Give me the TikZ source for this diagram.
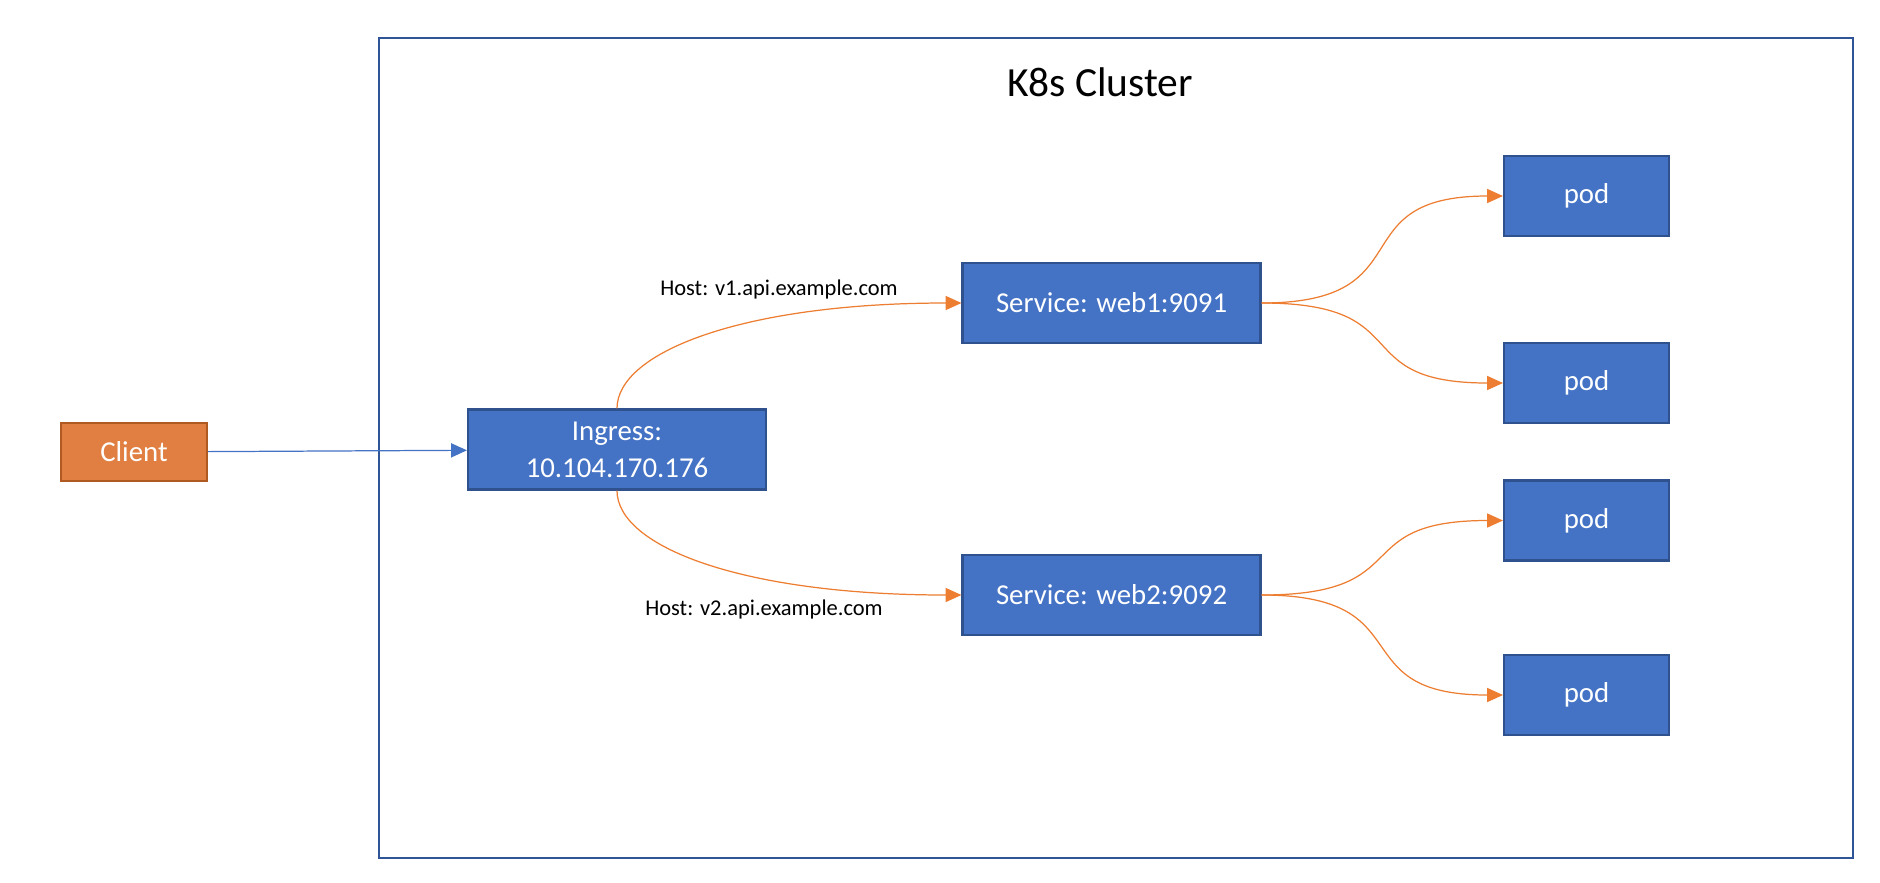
\documentclass[tikz,border=0pt]{standalone}
\usepackage{fontspec}
\setmainfont{Carlito}
\usepackage{tikz}
\usetikzlibrary{arrows.meta}

\definecolor{boxblue}{HTML}{4472C4}
\definecolor{boxblueline}{HTML}{2F528F}
\definecolor{clientorange}{HTML}{E07F41}
\definecolor{clientline}{HTML}{AE5A21}
\definecolor{linkorange}{HTML}{ED7D31}
\definecolor{clusterline}{HTML}{2F5597}

\begin{document}
\begin{tikzpicture}[
    svcbox/.style={draw=boxblueline, fill=boxblue, line width=0.6pt, text=white,
      minimum width=2.98cm, minimum height=0.8cm, align=center,
      font=\fontsize{8.2}{10.6}\selectfont},
    podbox/.style={svcbox, minimum width=1.65cm},
    clientbox/.style={svcbox, draw=clientline, fill=clientorange, minimum width=1.46cm, minimum height=0.58cm},
    route/.style={draw=linkorange, line width=0.35pt, -{Triangle[length=4.5pt, width=4pt]}},
    hostlabel/.style={font=\fontsize{6.4}{8}\selectfont}
  ]
    \useasboundingbox (0,0) rectangle (18.8,8.82);
    \draw[clusterline, line width=0.6pt] (3.79,0.24) rectangle (18.53,8.44);
    \node[font=\fontsize{11.8}{14}\selectfont] (title) at (11.0,8.0) {K8s Cluster};

    \node[clientbox] (client) at (1.34,4.30) {Client};
    \node[svcbox] (ingress) at (6.17,4.325) {Ingress:\\10.104.170.176};
    \node[svcbox] (web1) at (11.115,5.79) {Service: web1:9091};
    \node[svcbox] (web2) at (11.115,2.87) {Service: web2:9092};
    \node[podbox] (pod1) at (15.865,6.86) {pod};
    \node[podbox] (pod2) at (15.865,4.99) {pod};
    \node[podbox] (pod3) at (15.865,3.615) {pod};
    \node[podbox] (pod4) at (15.865,1.87) {pod};

    \node[hostlabel] (host1) at (7.79,5.93) {Host: v1.api.example.com};
    \node[hostlabel] (host2) at (7.64,2.73) {Host: v2.api.example.com};

    \draw[boxblue, line width=0.35pt, -{Triangle[length=4.5pt, width=4pt]}] (client) -- (ingress);
    \draw[route] (ingress.north) to[out=90, in=180, out looseness=0.4, in looseness=1.55] (web1.west);
    \draw[route] (ingress.south) to[out=-90, in=180, out looseness=0.4, in looseness=1.55] (web2.west);
    \foreach \s/\p in {web1/pod1, web1/pod2, web2/pod3, web2/pod4}
      \draw[route] (\s.east) to[out=0, in=180, looseness=1.6] (\p.west);
  \end{tikzpicture}
\end{document}
